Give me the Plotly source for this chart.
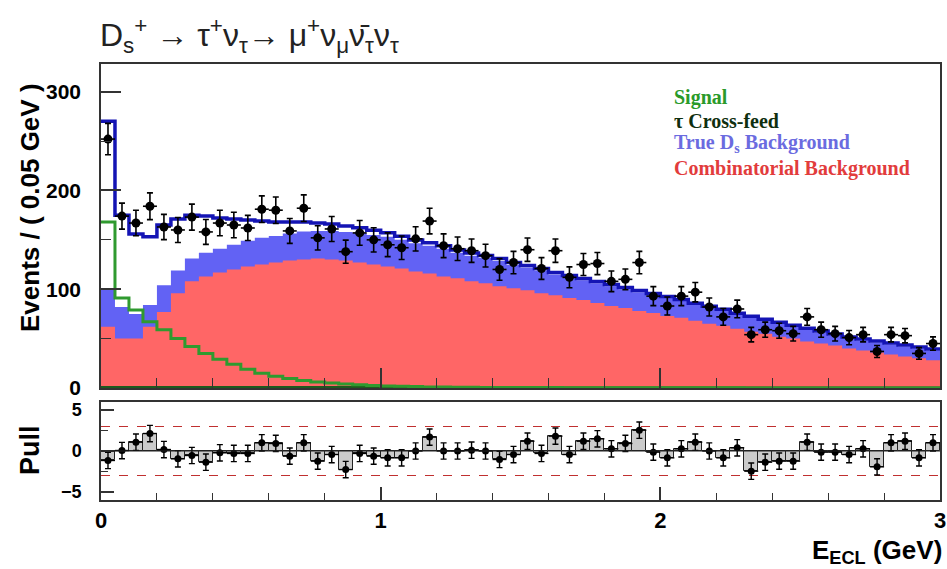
import numpy as np
import plotly.graph_objects as go

# ---------------- data (60 bins of 0.05 GeV, 0..3 GeV) ----------------
bin_width = 0.05
n_bins = 60

data_counts = [252, 174, 167, 184, 163, 160, 173, 158, 167, 165,
               162, 181, 180, 159, 182, 152, 161, 138, 157, 150,
               145, 142, 151, 169, 144, 141, 139, 134, 120, 127,
               140, 121, 139, 112, 125, 126, 108, 110, 127, 93,
               83, 93, 97, 82, 72, 80, 54, 59, 58, 55,
               72, 59, 55, 51, 54, 37, 54, 53, 35, 45]

comb_bkg = [62, 50, 50, 62, 77, 96, 108, 113, 117, 120,
            123, 125, 127, 129, 130, 131, 130, 129, 127, 125,
            123, 121, 118, 116, 113, 111, 108, 106, 103, 101,
            99, 96, 94, 91, 89, 86, 83, 81, 78, 76,
            73, 71, 68, 65, 63, 60, 57, 55, 52, 50,
            47, 45, 43, 40, 38, 36, 34, 32, 30, 28]

true_ds_bkg = [38, 32, 25, 22, 27, 23, 23, 24, 24, 25,
               26, 27, 27, 27.5, 28.5, 28, 29, 29, 30, 30,
               30, 29, 28.5, 28, 28, 26, 26, 25.5, 25.5, 23.5,
               23, 23, 21, 21, 20, 20, 20, 19, 19, 18,
               18, 17, 16, 16, 15, 14, 14, 13, 13, 12,
               12, 11, 10, 10, 10, 10, 10, 10, 10, 10]

signal = [168, 91, 79, 67, 59, 50, 42, 35, 29, 24,
          19, 15, 12, 9.5, 7.5, 6, 5, 4, 3.2, 2.6,
          2.1, 1.7, 1.4, 1.1, 0.9, 0.8, 0.7, 0.6, 0.5, 0.5,
          0.4, 0.4, 0.4, 0.3, 0.3, 0.3, 0.3, 0.3, 0.2, 0.2,
          0.2, 0.2, 0.2, 0.2, 0.2, 0.2, 0.1, 0.1, 0.1, 0.1,
          0.1, 0.1, 0.1, 0.1, 0.1, 0.1, 0.1, 0.1, 0.1, 0.1]

tau_crossfeed = [2, 2, 2, 2, 2, 2, 2, 2, 2, 2,
                 2, 2, 2, 2, 2, 2, 2, 2, 2, 2,
                 2, 2, 2, 2, 2, 2, 2, 2, 2, 2,
                 1.5, 1.5, 1.5, 1.5, 1.5, 1.5, 1.5, 1.5, 1.5, 1.5,
                 1.5, 1.5, 1.5, 1.5, 1.5, 1.5, 1.5, 1.5, 1.5, 1.5,
                 1.5, 1.5, 1.5, 1.5, 1.5, 1.5, 1.5, 1.5, 1.5, 1.5]

pulls = [-1.16, 0.06, 1.08, 2.14, 0.18, -0.96, -0.55, -1.37, -0.22, -0.30,
         -0.30, 1.00, 0.92, -0.63, 1.00, -1.24, -0.43, -2.27, -0.30, -0.63,
         -0.84, -0.84, 0.00, 1.70, 0.00, 0.00, 0.10, 0.00, -1.04, -0.43,
         1.20, -0.30, 1.82, -0.43, 1.20, 1.49, 0.27, 0.92, 2.55, -0.14,
         -0.84, 0.27, 1.08, 0.00, -0.84, 0.39, -2.47, -1.37, -1.24, -1.24,
         1.08, -0.14, -0.14, -0.43, 0.27, -1.94, 1.00, 1.20, -0.84, 1.00]

main_yticks = [0, 100, 200, 300]
pull_yticks = [-5, 0, 5]
x_ticks = [0, 1, 2, 3]

legend_entries = ["Signal", "τ Cross-feed", "True D<sub>s</sub> Background",
                  "Combinatorial Background"]

# ---------------- derived ----------------
edges = np.arange(n_bins + 1) * bin_width
centers = edges[:-1] + bin_width / 2
comb = np.array(comb_bkg, float)
tds = np.array(true_ds_bkg, float)
sig = np.array(signal, float)
xfd = np.array(tau_crossfeed, float)
dat = np.array(data_counts, float)
stack_top = comb + tds
total = comb + tds + sig + xfd
errs = np.sqrt(dat)


def step(vals):
    v = list(vals)
    return list(edges), v + [v[-1]]


fig = go.Figure()

# true Ds background (stacked on combinatorial)
sx, sy = step(stack_top)
fig.add_trace(go.Scatter(x=sx, y=sy, mode="lines", line=dict(shape="hv", width=0, color="#6262f4"),
                         fill="tozeroy", fillcolor="#6262f4", showlegend=False, hoverinfo="skip"))
# combinatorial background
sx, sy = step(comb)
fig.add_trace(go.Scatter(x=sx, y=sy, mode="lines", line=dict(shape="hv", width=0, color="#ff6666"),
                         fill="tozeroy", fillcolor="#ff6666", showlegend=False, hoverinfo="skip"))
# tau cross-feed
sx, sy = step(xfd)
fig.add_trace(go.Scatter(x=sx, y=sy, mode="lines", line=dict(shape="hv", width=0, color="#1e5a1e"),
                         fill="tozeroy", fillcolor="#1e5a1e", showlegend=False, hoverinfo="skip"))
# signal
sx, sy = step(sig)
fig.add_trace(go.Scatter(x=sx, y=sy, mode="lines", line=dict(shape="hv", width=3, color="#2f9a2f"),
                         showlegend=False, hoverinfo="skip"))
# total fit
sx, sy = step(total)
fig.add_trace(go.Scatter(x=sx, y=sy, mode="lines", line=dict(shape="hv", width=3.5, color="#1414b4"),
                         showlegend=False, hoverinfo="skip"))
# data
fig.add_trace(go.Scatter(x=centers, y=dat, mode="markers",
                         marker=dict(color="black", size=9),
                         error_y=dict(type="data", array=errs, color="black", thickness=1.6, width=3),
                         error_x=dict(type="data", array=[bin_width / 2] * n_bins, color="black",
                                      thickness=1.6, width=0),
                         showlegend=False))

# pull panel
fig.add_trace(go.Bar(x=centers, y=pulls, width=bin_width, marker=dict(color="#cbcbcb",
                     line=dict(color="#222", width=1)), xaxis="x2", yaxis="y2", showlegend=False))
fig.add_trace(go.Scatter(x=centers, y=pulls, mode="markers", xaxis="x2", yaxis="y2",
                         marker=dict(color="black", size=7),
                         error_y=dict(type="data", array=[1] * n_bins, color="black", thickness=1.4, width=3),
                         error_x=dict(type="data", array=[bin_width / 2] * n_bins, color="black",
                                      thickness=1.4, width=0),
                         showlegend=False))

xdom = [101 / 947, 940 / 947]
axis_font = dict(family="Liberation Sans", size=21, color="black", weight="bold")

fig.update_layout(
    template="none",
    width=947, height=569,
    margin=dict(l=0, r=0, t=0, b=0, autoexpand=False),
    paper_bgcolor="white", plot_bgcolor="white",
    bargap=0,
    xaxis=dict(domain=xdom, anchor="y", range=[0, 3], tickvals=x_ticks, showticklabels=False,
               automargin=False,
               ticks="inside", ticklen=20, tickwidth=1.5, tickcolor="#333",
               minor=dict(dtick=0.2, tick0=0, ticks="inside", ticklen=10, tickwidth=1.2, tickcolor="#333"),
               showline=True, mirror=True, linecolor="#333", linewidth=1.5, showgrid=False, zeroline=False),
    yaxis=dict(domain=[1 - 388 / 569, 1 - 64 / 569], anchor="x", range=[0, 328], tickvals=main_yticks,
               automargin=False,
               ticks="inside", ticklen=20, tickwidth=1.5, tickcolor="#333",
               minor=dict(tickvals=[50, 150, 250], ticks="inside", ticklen=10, tickwidth=1.2, tickcolor="#333"),
               showline=True, mirror=True, linecolor="#333", linewidth=1.5, showgrid=False, zeroline=False,
               tickfont=axis_font, ticklabelstandoff=14),
    xaxis2=dict(domain=xdom, anchor="y2", range=[0, 3], tickvals=x_ticks,
                automargin=False,
                ticks="inside", ticklen=13, tickwidth=1.5, tickcolor="#333",
                minor=dict(dtick=0.2, tick0=0, ticks="inside", ticklen=7, tickwidth=1.2, tickcolor="#333"),
                showline=True, mirror=True, linecolor="#333", linewidth=1.5, showgrid=False, zeroline=False,
                tickfont=dict(family="Liberation Sans", size=22, color="black", weight="bold"),
                ticklabelstandoff=0),
    yaxis2=dict(domain=[1 - 500 / 569, 1 - 402 / 569], anchor="x2", range=[-6, 6], tickvals=pull_yticks,
                automargin=False,
                ticks="inside", ticklen=13, tickwidth=1.5, tickcolor="#333",
                minor=dict(tickvals=[-2.5, 2.5], ticks="inside", ticklen=7, tickwidth=1.2, tickcolor="#333"),
                showline=True, mirror=True, linecolor="#333", linewidth=1.5, showgrid=False, zeroline=False,
                tickfont=dict(family="Liberation Sans", size=18, color="black", weight="bold"),
                ticklabelstandoff=14),
)

# dashed +-3 lines and zero line in pull panel
for yv, col, dash in [(3, "#c03030", "dash"), (-3, "#c03030", "dash"), (0, "#222", "solid")]:
    fig.add_shape(type="line", xref="x2", yref="y2", x0=0, x1=3, y0=yv, y1=yv,
                  line=dict(color=col, width=1, dash=dash), layer="below" if yv else "above")

# title
fig.add_annotation(xref="paper", yref="paper", x=98 / 947, y=1 - 36 / 569, xanchor="left", yanchor="middle",
                   showarrow=False,
                   text="D<sub>s</sub><sup>+</sup> → τ<sup>+</sup>ν<sub>τ</sub>→ μ<sup>+</sup>ν<sub>μ</sub>ν̄<sub>τ</sub>ν<sub>τ</sub>",
                   font=dict(family="Liberation Sans", size=32, color="#222"))

# axis titles
fig.add_annotation(xref="paper", yref="paper", x=30 / 947, y=1 - 208 / 569, textangle=-90,
                   xanchor="center", yanchor="middle", showarrow=False,
                   text="Events / ( 0.05 GeV )",
                   font=dict(family="Liberation Sans", size=26, color="black", weight="bold"))
fig.add_annotation(xref="paper", yref="paper", x=30 / 947, y=1 - 450 / 569, textangle=-90,
                   xanchor="center", yanchor="middle", showarrow=False,
                   text="Pull",
                   font=dict(family="Liberation Sans", size=27, color="black", weight="bold"))
fig.add_annotation(xref="paper", yref="paper", x=944 / 947, y=1 - 551 / 569,
                   xanchor="right", yanchor="middle", showarrow=False,
                   text="E<sub>ECL</sub> (GeV)",
                   font=dict(family="Liberation Sans", size=26, color="black", weight="bold"))

# legend (text only)
legend_colors = ["#2a9a2a", "#0f2f0f", "#6b6be0", "#e23c3c"]
legend_y = [97, 121, 144, 168]
for txt, col, yy in zip(legend_entries, legend_colors, legend_y):
    fig.add_annotation(xref="paper", yref="paper", x=672 / 947, y=1 - yy / 569,
                       xanchor="left", yanchor="middle", showarrow=False, text=txt,
                       font=dict(family="Liberation Serif", size=20, color=col, weight="bold"))

fig.write_html("out.html")
